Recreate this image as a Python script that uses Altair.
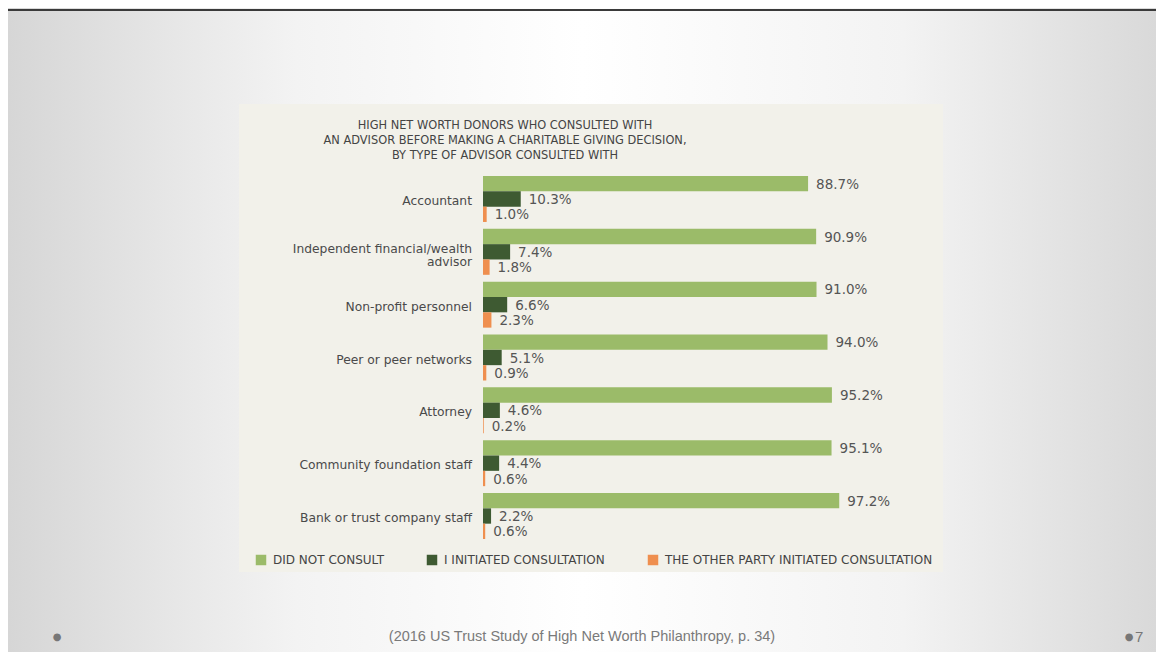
import altair as alt
import pandas as pd

categories = [
    "Accountant",
    "Independent financial/wealth\nadvisor",
    "Non-profit personnel",
    "Peer or peer networks",
    "Attorney",
    "Community foundation staff",
    "Bank or trust company staff",
]
did_not_consult = [88.7, 90.9, 91.0, 94.0, 95.2, 95.1, 97.2]
i_initiated = [10.3, 7.4, 6.6, 5.1, 4.6, 4.4, 2.2]
other_party = [1.0, 1.8, 2.3, 0.9, 0.2, 0.6, 0.6]

series = ["Did not consult", "I initiated consultation", "The other party initiated consultation"]
series_colors = ["#9bbb69", "#3e5a32", "#ef8f4f"]

title_text = ("HIGH NET WORTH DONORS WHO CONSULTED WITH\n"
              "AN ADVISOR BEFORE MAKING A CHARITABLE GIVING DECISION,\n"
              "BY TYPE OF ADVISOR CONSULTED WITH")
footer_text = "(2016 US Trust Study of High Net Worth Philanthropy, p. 34)"
slide_number = "7"

rows = []
for i, c in enumerate(categories):
    for s, vals in zip(series, [did_not_consult, i_initiated, other_party]):
        rows.append({"category": c, "series": s, "value": vals[i], "label": f"{vals[i]:.1f}%"})
df = pd.DataFrame(rows)

# category label lines (multi-line labels split so they can be centred on the row)
label_rows = []
for c in categories:
    parts = c.split("\n")
    for j, p in enumerate(parts):
        label_rows.append({"category": c, "line": p, "idx": j, "n": len(parts)})
lab_df = pd.DataFrame(label_rows)
one = pd.DataFrame({"k": [0]})

W, H = 1148, 644
FONT = "DejaVu Sans"

x_scale = alt.Scale(domain=[0, 100], range=[475, 841.5])
y_scale = alt.Scale(domain=categories, range=[168, 531], paddingInner=0.13, paddingOuter=0)
yoff_scale = alt.Scale(domain=series, paddingInner=0, paddingOuter=0)

bg = alt.Chart(one).mark_rect(
    color=alt.LinearGradient(
        gradient="linear", x1=0, x2=1, y1=0, y2=0,
        stops=[
            alt.GradientStop(color="#d6d6d6", offset=0),
            alt.GradientStop(color="#f3f3f3", offset=0.25),
            alt.GradientStop(color="#ffffff", offset=0.5),
            alt.GradientStop(color="#f3f3f3", offset=0.78),
            alt.GradientStop(color="#d9d9d9", offset=1),
        ],
    )
).encode(x=alt.value(0), x2=alt.value(W), y=alt.value(0), y2=alt.value(H))

top_line = alt.Chart(one).mark_rect(color="#3a3a3a").encode(
    x=alt.value(0), x2=alt.value(W), y=alt.value(1), y2=alt.value(3)
)

panel = alt.Chart(one).mark_rect(color="#f2f1ea").encode(
    x=alt.value(231), x2=alt.value(935), y=alt.value(96), y2=alt.value(564)
)

title = alt.Chart(one).mark_text(
    text=title_text, lineBreak="\n", align="center", baseline="middle",
    font=FONT, fontSize=11.4, color="#444444", lineHeight=15
).encode(x=alt.value(497), y=alt.value(118))

bars = alt.Chart(df).mark_bar().encode(
    x=alt.X("value:Q", scale=x_scale, axis=None),
    y=alt.Y("category:N", scale=y_scale, axis=None),
    yOffset=alt.YOffset("series:N", scale=yoff_scale),
    color=alt.Color(
        "series:N",
        scale=alt.Scale(domain=series, range=series_colors),
        legend=alt.Legend(
            orient="none", legendX=247, legendY=546, direction="horizontal",
            columns=3, title=None, symbolType="square", symbolSize=110,
            symbolStrokeWidth=0, labelFont=FONT, labelFontSize=12,
            labelColor="#444444", columnPadding=42, labelOffset=6, padding=0,
            labelExpr="upper(datum.label)", labelLimit=500,
        ),
    ),
)

value_labels = alt.Chart(df).mark_text(
    align="left", baseline="middle", dx=8, dy=1, font=FONT, fontSize=13.5, color="#555555"
).encode(
    x=alt.X("value:Q", scale=x_scale, axis=None),
    y=alt.Y("category:N", scale=y_scale, axis=None),
    yOffset=alt.YOffset("series:N", scale=yoff_scale),
    text="label:N",
)


def cat_layer(filter_expr, dy):
    return alt.Chart(lab_df).transform_filter(filter_expr).mark_text(
        align="right", baseline="middle", dy=dy,
        font=FONT, fontSize=12.3, color="#4a4a4a"
    ).encode(
        x=alt.value(464),
        y=alt.Y("category:N", scale=y_scale, axis=None),
        text="line:N",
    )


cat_single = cat_layer("datum.n == 1", 2)
cat_first = cat_layer("datum.n == 2 && datum.idx == 0", -2.5)
cat_second = cat_layer("datum.n == 2 && datum.idx == 1", 10.5)

footer = alt.Chart(one).mark_text(
    text=footer_text, align="center", baseline="middle",
    font="Liberation Sans", fontSize=14.5, color="#7a7a7a"
).encode(x=alt.value(574), y=alt.value(629))

left_dot = alt.Chart(one).mark_text(
    text="●", align="center", baseline="middle", font=FONT, fontSize=10, color="#777777"
).encode(x=alt.value(49), y=alt.value(629))

right_dot = alt.Chart(one).mark_text(
    text="●", align="center", baseline="middle", font=FONT, fontSize=10, color="#777777"
).encode(x=alt.value(1121), y=alt.value(629))

num = alt.Chart(one).mark_text(
    text=slide_number, align="left", baseline="middle",
    font="Liberation Sans", fontSize=15, color="#777777"
).encode(x=alt.value(1127), y=alt.value(629))

chart = alt.layer(
    bg, top_line, panel, title, bars, value_labels, cat_single, cat_first, cat_second,
    footer, left_dot, right_dot, num
).properties(
    width=W, height=H, padding=0, autosize=alt.AutoSizeParams(type="none")
).configure_view(stroke=None).configure(background="#ffffff")

chart.save("out.html", embed_options={"renderer": "svg", "actions": False})
